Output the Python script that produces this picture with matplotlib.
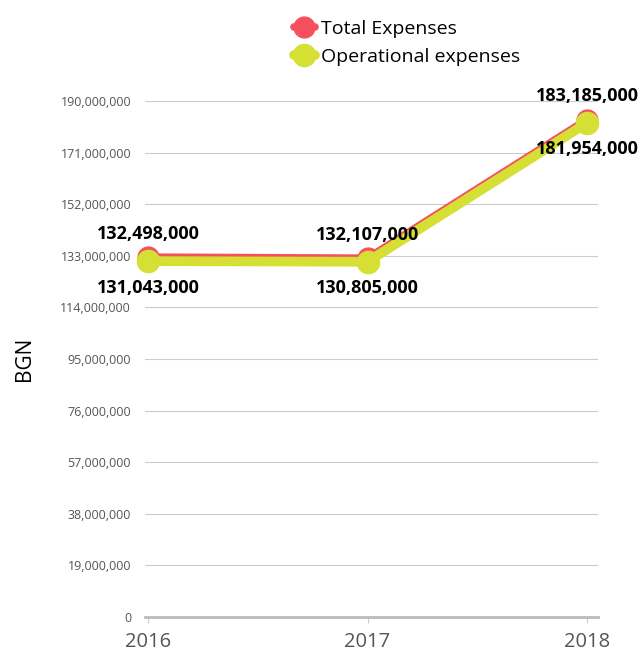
import matplotlib.pyplot as plt
from matplotlib.ticker import FuncFormatter

plt.rcParams["font.family"] = ["Open Sans", "DejaVu Sans"]

years = [2016, 2017, 2018]
total = [132498000, 132107000, 183185000]
operational = [131043000, 130805000, 181954000]
yticks = [0, 19000000, 38000000, 57000000, 76000000, 95000000,
          114000000, 133000000, 152000000, 171000000, 190000000]

red = "#F4505E"
yellow = "#D5DF34"

fig = plt.figure(figsize=(6.4, 6.53), dpi=100)
ax = fig.add_axes([145 / 640, 1 - 617 / 653, 453 / 640, 516 / 653])

ax.plot(years, operational, color=yellow, lw=7, marker="o", markersize=16,
        solid_capstyle="round", label="Operational expenses", zorder=3, clip_on=False)
ax.plot(years, total, color=red, lw=5.5, marker="o", markersize=15,
        solid_capstyle="round", label="Total Expenses", zorder=2, clip_on=False)

# value labels: total above, operational below
for x, t, o in zip(years, total, operational):
    ax.annotate(f"{t:,}", (x, t), xytext=(0, 17), textcoords="offset points",
                ha="center", va="center", fontsize=13, fontweight="bold")
    ax.annotate(f"{o:,}", (x, o), xytext=(0, -19), textcoords="offset points",
                ha="center", va="center", fontsize=13, fontweight="bold")

ax.set_xlim(2016 - 3 / 219.5, 2018 + 11 / 219.5)
ax.set_ylim(0, 190000000)
ax.set_xticks(years)
ax.set_xticklabels([str(y) for y in years])
ax.set_yticks(yticks)
ax.yaxis.set_major_formatter(FuncFormatter(lambda v, p: f"{int(v):,}"))

ax.grid(axis="y", color="#cccccc", lw=0.8)
ax.set_axisbelow(True)
for s in ["top", "right", "left"]:
    ax.spines[s].set_visible(False)
ax.spines["bottom"].set_color("#bbbbbb")
ax.spines["bottom"].set_linewidth(2)
ax.tick_params(axis="y", length=0, labelsize=9, labelcolor="#555555", pad=10)
ax.tick_params(axis="x", length=4, color="#cccccc", labelsize=14.5,
               labelcolor="#555555", pad=7)
ax.set_ylabel("BGN", fontsize=15, labelpad=18)

handles, labels = ax.get_legend_handles_labels()
fig.legend(handles[::-1], labels[::-1], loc="upper left",
           bbox_to_anchor=(286 / 640, 1 - 12 / 653),
           frameon=False, fontsize=14, handlelength=1.1, handletextpad=0.3,
           labelspacing=0.5, borderaxespad=0)

fig.savefig("out.png", dpi=100)
